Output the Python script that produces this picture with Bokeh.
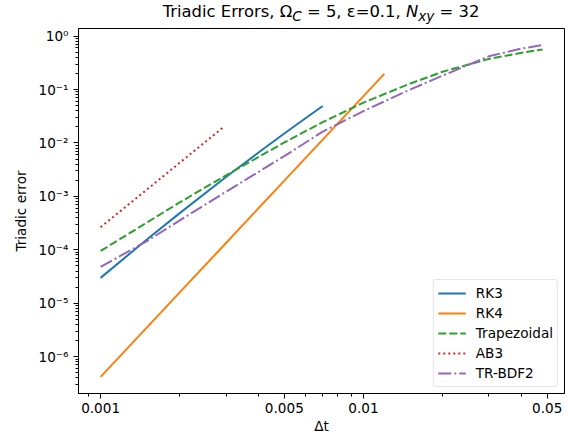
from bokeh.plotting import figure
from bokeh.layouts import column
from bokeh.models import Range1d, FixedTicker, CustomJSTickFormatter, Legend, LegendItem, Div
from bokeh.embed import file_html
from bokeh.resources import INLINE

# ---------------- data ----------------
methods = ["RK3", "RK4", "Trapezoidal", "AB3", "TR-BDF2"]

dt_rk3 = [0.001, 0.0015, 0.002, 0.003, 0.004, 0.005, 0.006, 0.007]
err_rk3 = [2.98e-5, 1.56e-4, 4.85e-4, 2.30e-3, 6.68e-3, 1.50e-2, 2.87e-2, 4.92e-2]

dt_rk4 = [0.001, 0.002, 0.003, 0.005, 0.007, 0.01, 0.012]
err_rk4 = [4.17e-7, 1.59e-5, 1.34e-4, 1.97e-3, 1.15e-2, 7.52e-2, 0.196]

dt_trap = [0.001, 0.002, 0.003, 0.005, 0.007, 0.01, 0.015, 0.02, 0.03, 0.04, 0.048]
err_trap = [9.5e-5, 7.7e-4, 2.48e-3, 1.02e-2, 2.46e-2, 5.69e-2, 0.128, 0.215, 0.374, 0.486, 0.562]

dt_ab3 = [0.001, 0.0015, 0.002, 0.0025, 0.00295]
err_ab3 = [2.65e-4, 1.34e-3, 4.26e-3, 1.04e-2, 2.02e-2]

dt_trbdf2 = [0.001, 0.0015, 0.002, 0.003, 0.005, 0.007, 0.01, 0.015, 0.02, 0.03, 0.04, 0.048]
err_trbdf2 = [4.8e-5, 1.45e-4, 3.55e-4, 1.22e-3, 5.67e-3, 1.63e-2, 3.94e-2, 9.9e-2, 0.182, 0.419, 0.586, 0.678]

x_tick_values = [0.001, 0.005, 0.01, 0.05]
x_tick_labels = ["0.001", "0.005", "0.01", "0.05"]
y_tick_values = [1e-6, 1e-5, 1e-4, 1e-3, 1e-2, 1e-1, 1e0]
y_tick_labels = ["10\u207b\u2076", "10\u207b\u2075", "10\u207b\u2074", "10\u207b\u00b3",
                 "10\u207b\u00b2", "10\u207b\u00b9", "10\u2070"]
x_limits = (0.000824, 0.0582)
y_limits = (2.04e-7, 1.387)

x_label = "\u0394t"
y_label = "Triadic error"
title_html = ("Triadic Errors, \u03a9<sub><i>C</i></sub> = 5, \u03b5=0.1, "
              "<i>N</i><sub><i>xy</i></sub> = 32")

# ---------------- styling ----------------
FONT = "DejaVu Sans"
FS = 13.6
TFS = 16.4
colors = ["#1f77b4", "#ff7f0e", "#2ca02c", "#d62728", "#9467bd"]
dashes = ["solid", "solid", "8 3", "2 3", "13 3 2 3"]

FW, FH = 486, 365
LEFT, RIGHT, TOP, BOTTOM = 78, 4, 4, 44
TITLE_H = 24

p = figure(x_axis_type="log", y_axis_type="log", frame_width=FW, frame_height=FH,
           x_range=Range1d(*x_limits), y_range=Range1d(*y_limits),
           output_backend="svg", toolbar_location=None, title=None,
           min_border_left=LEFT, min_border_right=RIGHT, min_border_top=TOP,
           min_border_bottom=BOTTOM)

p.grid.visible = False
p.outline_line_color = "black"
p.outline_line_width = 1
p.outline_line_alpha = 1

x_minor = [m * 10.0 ** e for e in (-4, -3, -2) for m in range(1, 10)
           if x_limits[0] <= m * 10.0 ** e <= x_limits[1]]
y_minor = [m * 10.0 ** e for e in range(-7, 1) for m in range(1, 10)
           if y_limits[0] <= m * 10.0 ** e <= y_limits[1]]
p.xaxis.ticker = FixedTicker(ticks=x_tick_values, minor_ticks=x_minor)
p.yaxis.ticker = FixedTicker(ticks=y_tick_values, minor_ticks=y_minor)

fmt_code = """
for (let i = 0; i < vals.length; i++) {
  if (Math.abs(Math.log10(tick) - Math.log10(vals[i])) < 1e-6) { return labs[i]; }
}
return "";
"""
p.xaxis.formatter = CustomJSTickFormatter(args=dict(vals=x_tick_values, labs=x_tick_labels), code=fmt_code)
p.yaxis.formatter = CustomJSTickFormatter(args=dict(vals=y_tick_values, labs=y_tick_labels), code=fmt_code)

for ax in (p.xaxis[0], p.yaxis[0]):
    ax.major_tick_out = 5
    ax.major_tick_in = 0
    ax.minor_tick_out = 3
    ax.minor_tick_in = 0
    ax.major_tick_line_color = "black"
    ax.minor_tick_line_color = "black"
    ax.axis_line_color = "black"
    ax.major_label_text_font = FONT
    ax.major_label_text_font_size = f"{FS}px"
    ax.major_label_text_color = "black"
    ax.axis_label_text_font = FONT
    ax.axis_label_text_font_size = f"{FS}px"
    ax.axis_label_text_font_style = "normal"
    ax.axis_label_text_color = "black"

p.xaxis.axis_label = x_label
p.yaxis.axis_label = y_label
p.xaxis.major_label_standoff = 4
p.xaxis.axis_label_standoff = 2
p.yaxis.major_label_standoff = 5
p.yaxis.axis_label_standoff = 7

series = [(dt_rk3, err_rk3), (dt_rk4, err_rk4), (dt_trap, err_trap), (dt_ab3, err_ab3), (dt_trbdf2, err_trbdf2)]
items = []
for name, (xs, ys), c, d in zip(methods, series, colors, dashes):
    r = p.line(xs, ys, line_color=c, line_width=2, line_dash=d)
    items.append(LegendItem(label=name, renderers=[r]))

legend = Legend(items=items, location="bottom_right", margin=6, padding=4,
                glyph_width=28, glyph_height=18, label_height=18, spacing=2,
                label_standoff=10, label_text_font=FONT, label_text_font_size=f"{FS}px",
                label_text_color="black",
                border_line_color="#cccccc", border_line_width=1,
                background_fill_color="white", background_fill_alpha=0.8)
if "border_radius" in Legend.properties():
    legend.border_radius = 3
p.add_layout(legend)

# ---------------- title as real HTML text (with sub-scripts) ----------------
title = Div(text=title_html, width=FW, height=TITLE_H, margin=(0, RIGHT, 0, LEFT),
            styles={"font-family": FONT, "font-size": f"{TFS}px", "line-height": f"{TITLE_H}px",
                    "text-align": "center", "color": "black", "white-space": "nowrap",
                    "overflow": "visible"})

layout = column(title, p, spacing=0)
open("out.html", "w").write(file_html(layout, INLINE))
